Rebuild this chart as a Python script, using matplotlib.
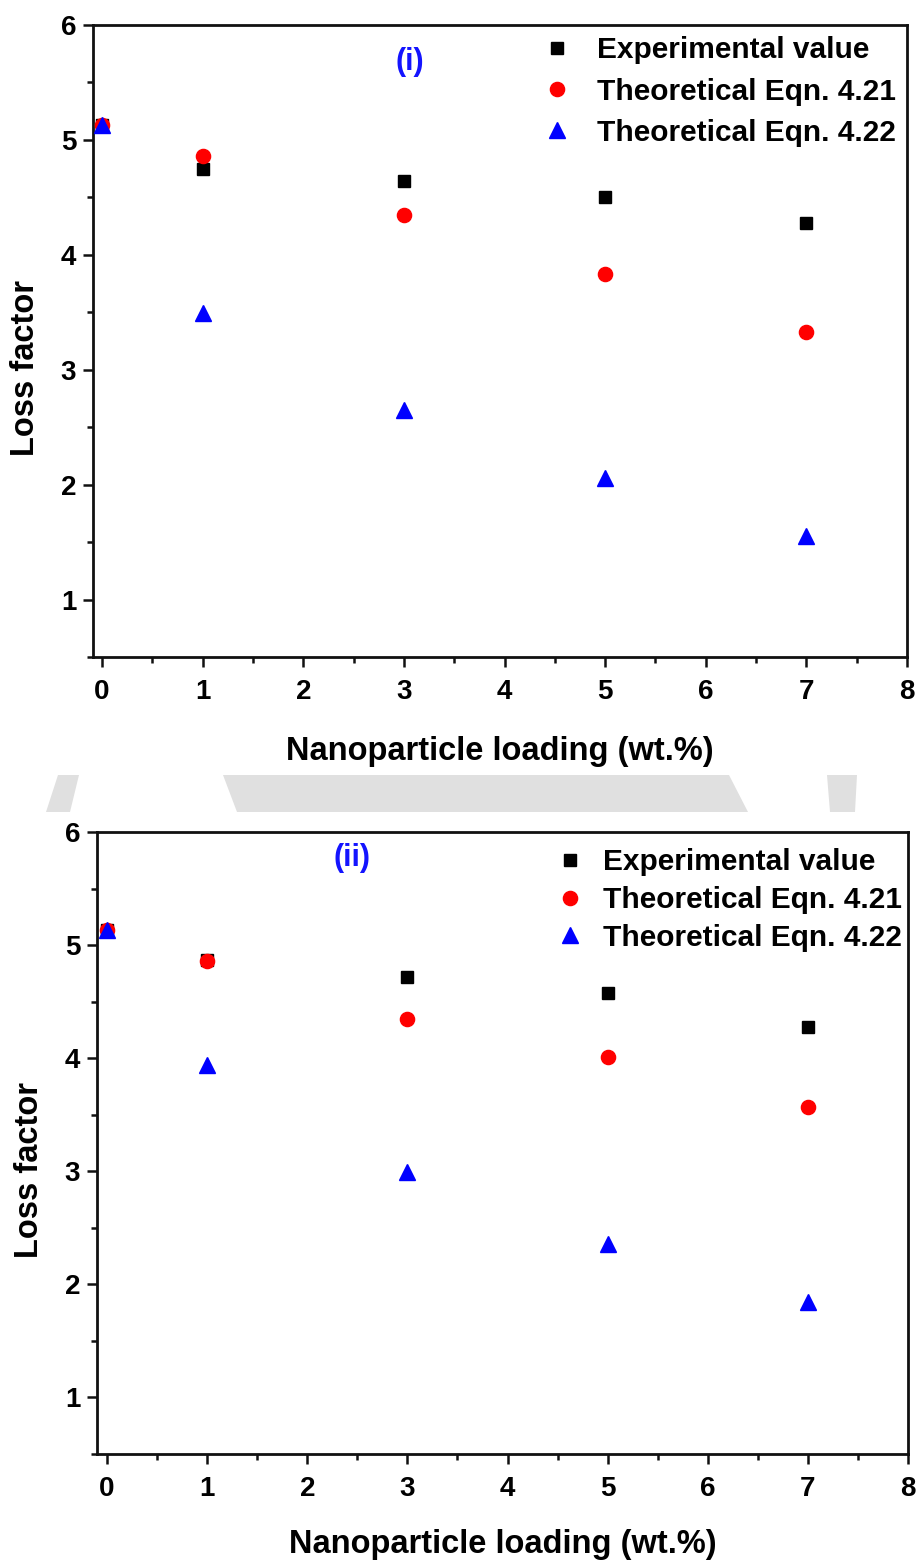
import matplotlib
matplotlib.use("Agg")
import matplotlib.pyplot as plt
from matplotlib.patches import Polygon
from matplotlib.ticker import MultipleLocator

plt.rcParams['font.family'] = ['Liberation Sans', 'DejaVu Sans']
plt.rcParams['font.weight'] = 'bold'

# Nanoparticle loading (wt.%)
loading = [0, 1, 3, 5, 7]

# Panel (i)
exp_i = [5.13, 4.75, 4.64, 4.50, 4.28]
eq421_i = [5.13, 4.86, 4.35, 3.83, 3.33]
eq422_i = [5.13, 3.49, 2.65, 2.06, 1.55]

# Panel (ii)
exp_ii = [5.13, 4.87, 4.72, 4.58, 4.28]
eq421_ii = [5.13, 4.86, 4.35, 4.01, 3.57]
eq422_ii = [5.13, 3.94, 2.99, 2.36, 1.84]

series_labels = ["Experimental value", "Theoretical Eqn. 4.21", "Theoretical Eqn. 4.22"]
panel_tags = ["(i)", "(ii)"]
x_label = "Nanoparticle loading (wt.%)"
y_label = "Loss factor"

W, H = 919, 1563
fig = plt.figure(figsize=(W / 100, H / 100), dpi=100, facecolor='white')


def px_rect(left, top, right, bottom):
    return [left / W, 1 - bottom / H, (right - left) / W, (bottom - top) / H]


# faint grey band shapes between the two panels
band = [
    [(58, 775), (79, 775), (70, 812), (46, 812)],
    [(223, 775), (729, 775), (748, 812), (237, 812)],
    [(827, 775), (857, 775), (855, 812), (830, 812)],
]
for poly in band:
    pts = [(x / W, 1 - y / H) for x, y in poly]
    fig.patches.append(Polygon(pts, closed=True, transform=fig.transFigure,
                               facecolor='#e0e0e0', edgecolor='none', zorder=0))

panels = [
    dict(rect=px_rect(93, 25, 907, 657), xmin=-0.09,
         data=(exp_i, eq421_i, eq422_i), tag=panel_tags[0], tag_pos=(0.389, 0.941),
         leg_anchor=(0.5516, 0.982), leg_pad=0.83, leg_space=0.44,
         xlab_y=-0.150, ylab_x=-0.083),
    dict(rect=px_rect(97, 832, 908, 1454), xmin=-0.10,
         data=(exp_ii, eq421_ii, eq422_ii), tag=panel_tags[1], tag_pos=(0.314, 0.958),
         leg_anchor=(0.5647, 0.974), leg_pad=0.6, leg_space=0.33,
         xlab_y=-0.146, ylab_x=-0.083),
]

for p in panels:
    ax = fig.add_axes(p['rect'])
    ax.set_facecolor('white')
    exp_v, e421, e422 = p['data']
    ax.plot(loading, exp_v, linestyle='none', marker='s', markersize=8.8,
            color='black', label=series_labels[0], zorder=3)
    ax.plot(loading, e421, linestyle='none', marker='o', markersize=10.2,
            color='#ff0000', label=series_labels[1], zorder=4)
    ax.plot(loading, e422, linestyle='none', marker='^', markersize=11.5,
            color='#0000ff', label=series_labels[2], zorder=5)

    ax.set_xlim(p['xmin'], 8.0)
    ax.set_ylim(0.5, 6.0)
    ax.xaxis.set_major_locator(MultipleLocator(1))
    ax.xaxis.set_minor_locator(MultipleLocator(0.5))
    ax.yaxis.set_major_locator(MultipleLocator(1))
    ax.yaxis.set_minor_locator(MultipleLocator(0.5))

    for s in ax.spines.values():
        s.set_linewidth(2.0)
        s.set_color('#111111')
    ax.tick_params(which='both', direction='out', top=False, right=False,
                   width=1.8, color='#111111')
    ax.tick_params(which='major', length=7, labelsize=20)
    ax.tick_params(which='minor', length=4)
    ax.tick_params(axis='x', which='major', pad=9)
    ax.tick_params(axis='y', which='major', pad=5)
    for lbl in ax.get_xticklabels() + ax.get_yticklabels():
        lbl.set_fontweight('bold')

    ax.set_xlabel(x_label, fontsize=23.5, fontweight='bold')
    ax.set_ylabel(y_label, fontsize=23.5, fontweight='bold')
    ax.xaxis.set_label_coords(0.5, p['xlab_y'])
    ax.xaxis.label.set_va('center')
    ax.yaxis.set_label_coords(p['ylab_x'], 0.457)
    ax.yaxis.label.set_va('center')

    ax.text(p['tag_pos'][0], p['tag_pos'][1], p['tag'], transform=ax.transAxes,
            color='#1414ff', fontsize=22, fontweight='bold', ha='center', va='center')

    ax.legend(loc='upper left', bbox_to_anchor=p['leg_anchor'], frameon=False,
              borderpad=0, borderaxespad=0, handlelength=1.0,
              handletextpad=p['leg_pad'], labelspacing=p['leg_space'],
              prop=dict(size=21.5, weight='bold'), numpoints=1)

fig.savefig("out.png", dpi=100, facecolor='white')
